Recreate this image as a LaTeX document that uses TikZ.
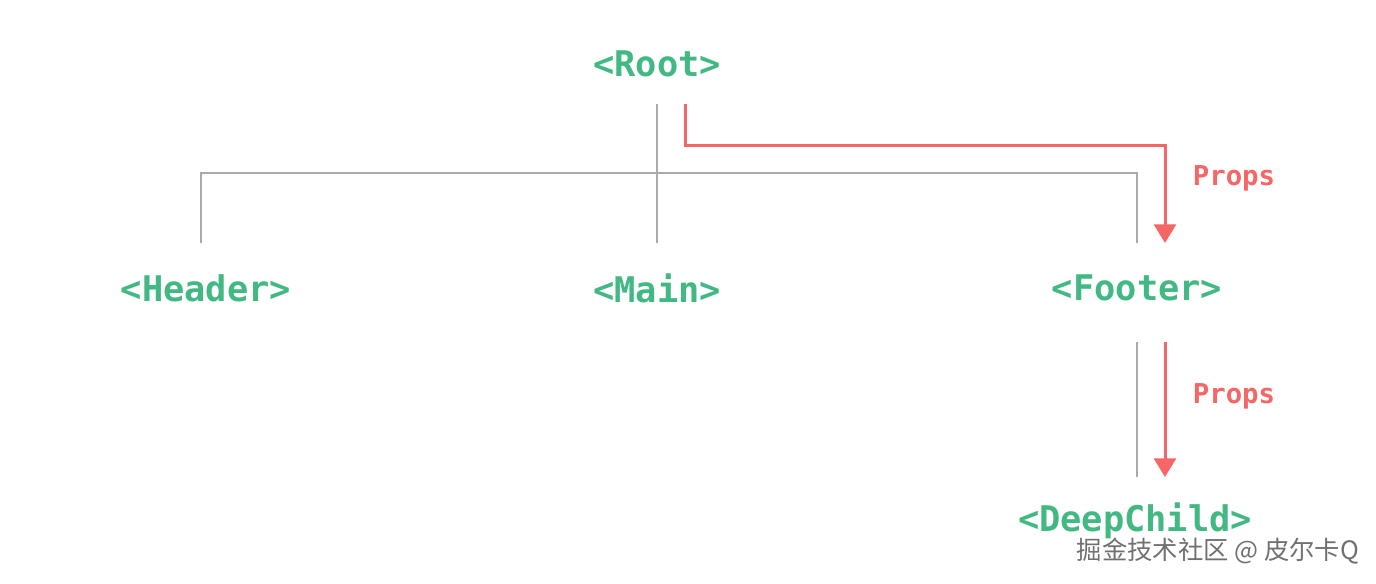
\documentclass[tikz,border=0pt]{standalone}
\usepackage{fontspec}
\newfontfamily\monob{DejaVu Sans Mono}[BoldFont={* Bold}]
\newfontfamily\cjk{Noto Sans CJK SC}
\usetikzlibrary{arrows.meta,calc}
\definecolor{vuegreen}{HTML}{42B883}
\definecolor{propred}{HTML}{F66666}
\definecolor{treegray}{HTML}{AAAAAA}
\definecolor{markgray}{HTML}{707070}
\tikzset{
  comp/.style={text=vuegreen,font=\monob\bfseries\fontsize{26.5}{30}\selectfont,inner sep=0pt},
  proplabel/.style={text=propred,font=\monob\bfseries\fontsize{20.5}{24}\selectfont,inner sep=0pt},
  treeline/.style={draw=treegray,line width=1.5pt},
  propline/.style={draw=propred,line width=2.25pt,-{Triangle[width=16.5pt,length=14pt]}},
  watermark/.style={text=markgray,font=\cjk\fontsize{19}{22}\selectfont,inner sep=0pt}
}
\begin{document}
\begin{tikzpicture}[x=0.75pt,y=-0.75pt]
\useasboundingbox (0,0) rectangle (1376,584);
\node[comp] (root) at (657,64) {<Root>};
\node[comp] (header) at (206,288) {<Header>};
\node[comp] (main) at (657,288) {<Main>};
\node[comp] (footer) at (1137,288) {<Footer>};
\node[comp] (deep) at (1135,521) {<DeepChild>};
\coordinate (hleft) at (201,173);
\coordinate (hright) at (1137,173);
% tree lines
\draw[treeline] ($(root.center)+(0,40)$) -- ($(main.center)+(0,-45)$);
\draw[treeline] ($(header.center)+(-5,-45)$) -- (hleft) -- (hright) -- ($(footer.center)+(0,-45)$);
\draw[treeline] ($(footer.center)+(0,54)$) -- ($(deep.center)+(2,-44)$);
% props arrows
\draw[propline] ($(root.center)+(28,40)$) |- ($(footer.center)+(28,-142)$) -- ($(footer.center)+(28,-45)$);
\draw[propline] ($(footer.center)+(28,54)$) -- ($(deep.center)+(30,-44)$);
\node[proplabel] (p1) at (1234,178) {Props};
\node[proplabel] (p2) at (1234,396) {Props};
\node[watermark] (wm) at (1218,551) {掘金技术社区 @ 皮尔卡Q};
\end{tikzpicture}
\end{document}
